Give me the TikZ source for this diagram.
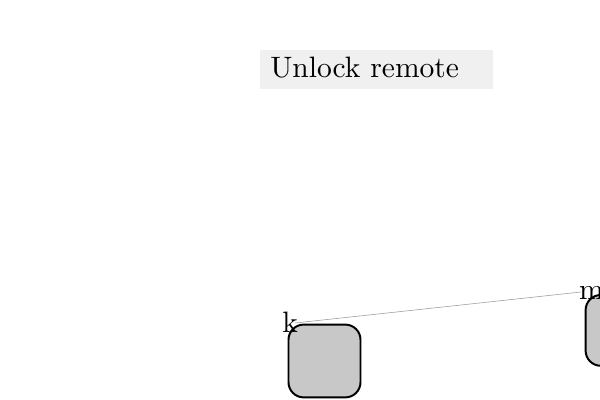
\documentclass[tikz,border=0pt]{standalone}
\usepackage{tikz}
\definecolor{titlegray}{HTML}{F0F0F0}
\definecolor{boxgray}{HTML}{C8C8C8}
\definecolor{linkgray}{HTML}{9A9A9A}
\newcommand{\bigtxt}[1]{\scalebox{2.1}{#1}}

\begin{document}
\begin{tikzpicture}
        \useasboundingbox (0,0) rectangle (15,-10);
        \tikzset{
            boxnode/.style={draw=black, fill=boxgray, line width=1.4pt, rounded corners=0.38cm, minimum width=1.8cm, minimum height=1.82cm, inner sep=0pt},
            labnode/.style={anchor=base west, inner sep=0pt}
        }
        
        \node[fill=titlegray, minimum width=5.825cm, minimum height=0.975cm, inner sep=0pt] (title) at (9.4125,-1.7375) {};
        \node[labnode] (titletxt) at (6.75,-1.95) {\bigtxt{Unlock remote}};
        
        \node[boxnode] (kbox) at (8.1125,-9.025) {};
        \node[boxnode, minimum height=1.77cm] (mbox) at (15.54,-8.26) {};
        
        \coordinate (kc) at (7.375,-8.075);
        \coordinate (mc) at (14.525,-7.3);
        \draw[linkgray, line width=0.4pt] (kc) -- (mc);
        
        \node[labnode] (klab) at (7.05,-8.325) {\bigtxt{k}};
        \node[labnode] (mlab) at (14.47,-7.5) {\bigtxt{m}};
        
\end{tikzpicture}
\end{document}
